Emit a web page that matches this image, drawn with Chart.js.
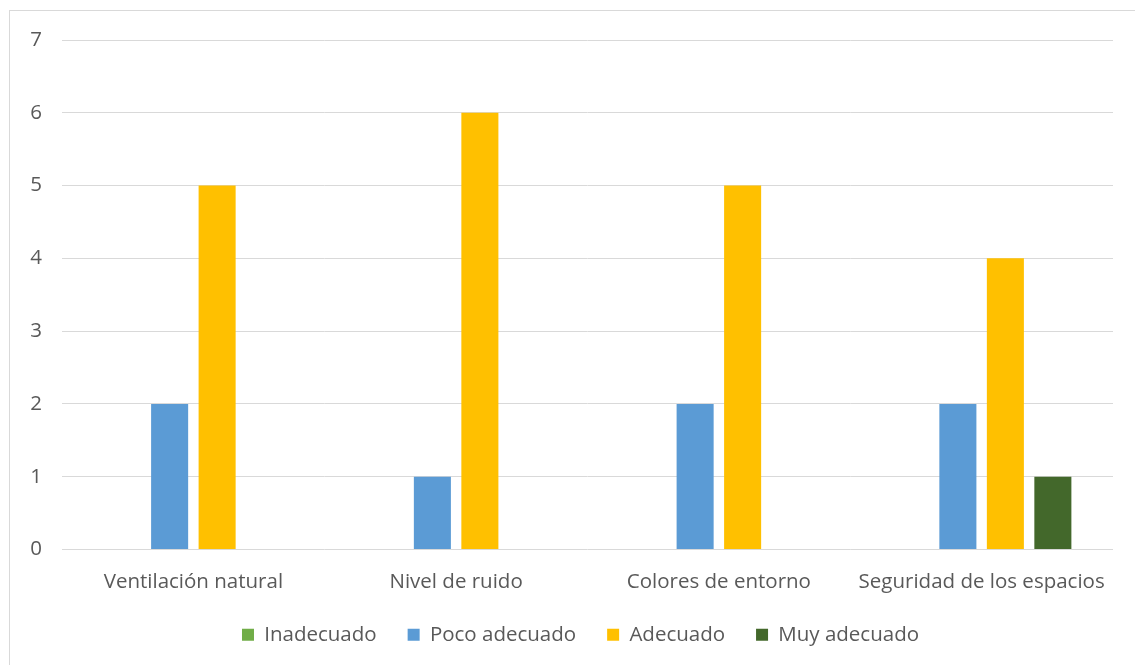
<!DOCTYPE html>
<html>
<head>
<meta charset="utf-8">
<script src="https://cdn.jsdelivr.net/npm/chart.js@4/dist/chart.umd.min.js"></script>
<style>
  html, body { margin: 0; padding: 0; background: #fff; }
  #wrap { position: relative; width: 1135px; height: 665px; }
  #frame { position: absolute; left: 9px; top: 10px; width: 1135px; height: 665px; border: 1px solid #D9D9D9; box-sizing: border-box; }
  canvas { position: absolute; left: 0; top: 0; }
</style>
</head>
<body>
<div id="wrap">
  <div id="frame"></div>
  <canvas id="chart" width="1135" height="665"></canvas>
</div>
<script>
// Datos
const categorias = ['Ventilación natural', 'Nivel de ruido', 'Colores de entorno', 'Seguridad de los espacios'];
const inadecuado = [0, 0, 0, 0];
const pocoAdecuado = [2, 1, 2, 2];
const adecuado = [5, 6, 5, 4];
const muyAdecuado = [0, 0, 0, 1];
const ticksY = [0, 1, 2, 3, 4, 5, 6, 7];

const COLORES = {
    inadecuado: '#70AD47',
    pocoAdecuado: '#5B9BD5',
    adecuado: '#FFC000',
    muyAdecuado: '#43682B'
};
const TEXTO = '#595959';
const FUENTE = { family: 'Open Sans', size: 20.5 };

function serie(label, data, color) {
    return {
        label: label,
        data: data,
        backgroundColor: color,
        borderWidth: 0,
        categoryPercentage: 0.723,
        barPercentage: 0.78
    };
}

// mover la leyenda un poco a la derecha, como en el original
const desplazarLeyenda = {
    id: 'desplazarLeyenda',
    afterLayout(chart) {
        chart.legend.left += 24;
        chart.legend.right += 24;
    }
};

const ctx = document.getElementById('chart').getContext('2d');
new Chart(ctx, {
    type: 'bar',
    data: {
        labels: categorias,
        datasets: [
            serie('Inadecuado', inadecuado, COLORES.inadecuado),
            serie('Poco adecuado', pocoAdecuado, COLORES.pocoAdecuado),
            serie('Adecuado', adecuado, COLORES.adecuado),
            serie('Muy adecuado', muyAdecuado, COLORES.muyAdecuado)
        ]
    },
    plugins: [desplazarLeyenda],
    options: {
        responsive: false,
        animation: false,
        layout: { padding: { left: 0, right: 22, top: 40, bottom: 10 } },
        plugins: {
            tooltip: { enabled: false },
            legend: {
                position: 'bottom',
                labels: {
                    color: TEXTO,
                    font: FUENTE,
                    boxWidth: 12,
                    boxHeight: 12,
                    padding: 31
                }
            }
        },
        scales: {
            x: {
                grid: { display: false },
                border: { display: false },
                ticks: { color: TEXTO, font: FUENTE, padding: 12, maxRotation: 0 },
                afterFit: s => { s.height = 44; }
            },
            y: {
                min: 0,
                max: 7,
                afterBuildTicks: s => { s.ticks = ticksY.map(v => ({ value: v })); },
                grid: { color: '#D9D9D9', lineWidth: 1, drawTicks: false },
                border: { display: false },
                ticks: { color: TEXTO, font: FUENTE, padding: 20 },
                afterFit: s => { s.width = 62; }
            }
        }
    }
});
</script>
</body>
</html>
